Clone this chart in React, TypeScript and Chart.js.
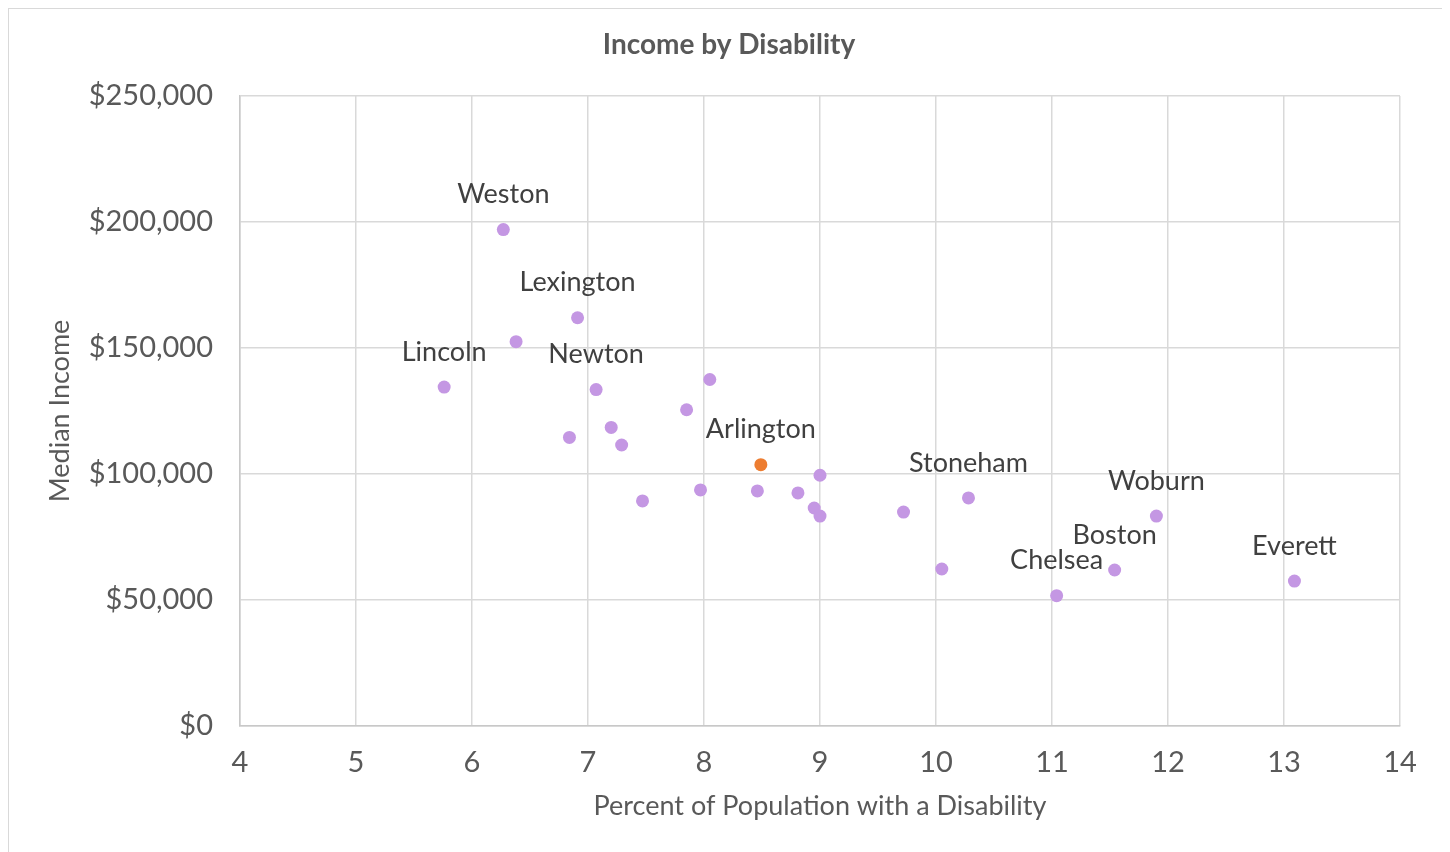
import { useEffect, useRef } from "react";
import { Chart, registerables } from "chart.js";

Chart.register(...registerables);

const chartTitle = "Income by Disability";
const xAxisTitle = "Percent of Population with a Disability";
const yAxisTitle = "Median Income";

const cities = [
  "Weston", "Lexington", "", "Lincoln", "Newton", "", "", "", "", "",
  "Arlington", "", "", "", "", "", "", "", "", "Stoneham",
  "", "Chelsea", "Boston", "Woburn", "Everett",
];
const disabilityPct = [
  6.27, 6.91, 6.38, 5.76, 7.07, 8.05, 7.85, 7.2, 6.84, 7.29,
  8.49, 9.0, 7.47, 7.97, 8.46, 8.81, 8.95, 9.0, 9.72, 10.28,
  10.05, 11.04, 11.54, 11.9, 13.09,
];
const medianIncome = [
  197000, 162000, 152500, 134500, 133500, 137500, 125500, 118500, 114500, 111500,
  103700, 99500, 89300, 93700, 93300, 92500, 86500, 83300, 84900, 90500,
  62300, 51700, 61900, 83300, 57500,
];
const highlightCity = "Arlington";

const FONT = 'Lato, "Open Sans", sans-serif';
const PURPLE = "#c497e3";
const ORANGE = "#ed7d31";

export default function App() {
  const ref = useRef<HTMLCanvasElement | null>(null);

  useEffect(() => {
    document.body.style.overflow = "hidden";
    const canvas = ref.current;
    if (!canvas) return;

    const labelPlugin = {
      id: "labels",
      afterDatasetsDraw(chart: any) {
        const ctx = chart.ctx;
        const meta = chart.getDatasetMeta(0);
        ctx.save();
        ctx.font = `27px ${FONT}`;
        ctx.fillStyle = "#404040";
        ctx.textAlign = "center";
        ctx.textBaseline = "middle";
        meta.data.forEach((el: any, i: number) => {
          if (cities[i]) ctx.fillText(cities[i], el.x, el.y - 35);
        });
        ctx.restore();
      },
      afterDraw(chart: any) {
        const ctx = chart.ctx;
        ctx.save();
        ctx.font = `bold 28px ${FONT}`;
        ctx.fillStyle = "#595959";
        ctx.textAlign = "center";
        ctx.textBaseline = "middle";
        ctx.fillText(chartTitle, chart.width / 2, 36);
        ctx.restore();
      },
    };

    const chart = new Chart(canvas, {
      type: "scatter",
      data: {
        datasets: [
          {
            data: disabilityPct.map((x, i) => ({ x, y: medianIncome[i] })),
            pointRadius: 6.5,
            pointHoverRadius: 6.5,
            pointBorderWidth: 0,
            pointBackgroundColor: cities.map((c) => (c === highlightCity ? ORANGE : PURPLE)),
          },
        ],
      },
      options: {
        responsive: false,
        animation: false,
        layout: { padding: { top: 87, right: 49, left: 0, bottom: 0 } },
        plugins: {
          legend: { display: false },
          tooltip: { enabled: false },
          title: { display: false },
        },
        scales: {
          x: {
            type: "linear",
            min: 4,
            max: 14,
            afterFit: (s: any) => {
              s.height = 133;
            },
            ticks: {
              stepSize: 1,
              padding: 19,
              color: "#595959",
              font: { family: FONT, size: 29 },
            },
            grid: { color: "#d9d9d9", lineWidth: 1.5, drawTicks: false },
            border: { color: "#c8c8c8", width: 1.5 },
            title: {
              display: true,
              text: xAxisTitle,
              color: "#595959",
              font: { family: FONT, size: 27 },
              padding: { top: 0, bottom: 37 },
            },
          },
          y: {
            type: "linear",
            min: 0,
            max: 250000,
            afterFit: (s: any) => {
              s.width = 231;
            },
            ticks: {
              stepSize: 50000,
              padding: 27,
              color: "#595959",
              font: { family: FONT, size: 29 },
              callback: (v: any) => "$" + Number(v).toLocaleString("en-US"),
            },
            grid: { color: "#d9d9d9", lineWidth: 1.5, drawTicks: false },
            border: { color: "#c8c8c8", width: 1.5 },
            title: {
              display: true,
              text: yAxisTitle,
              color: "#595959",
              font: { family: FONT, size: 27 },
              padding: { top: 35, bottom: 0 },
            },
          },
        },
      },
      plugins: [labelPlugin],
    });

    return () => chart.destroy();
  }, []);

  return (
    <div
      style={{
        width: 1442,
        height: 852,
        border: "1px solid #d9d9d9",
        boxSizing: "border-box",
        background: "#fff",
      }}
    >
      <canvas ref={ref} width={1440} height={850} style={{ display: "block" }} />
    </div>
  );
}
